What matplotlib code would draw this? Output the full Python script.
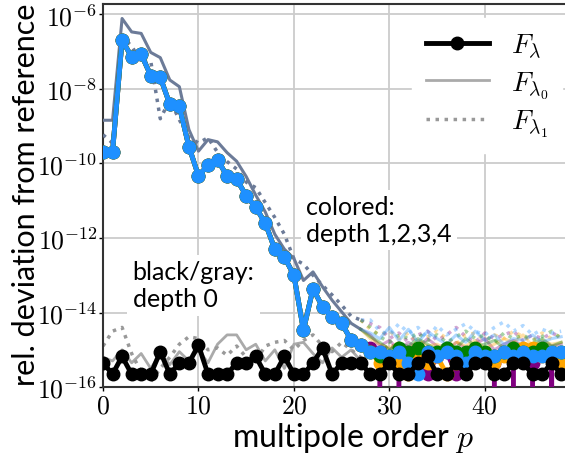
import numpy as np
import matplotlib.pyplot as plt
from matplotlib.lines import Line2D

plt.rcParams['mathtext.fontset'] = 'cm'
plt.rcParams['font.family'] = ['Lato', 'DejaVu Sans']

EPS = 2.22e-16
p = np.arange(49)
p_tail = np.arange(28, 49)
p_head = np.arange(28)

# depth 0 (black / gray), F_lambda in multiples of machine epsilon
F_depth0_eps = [2, 1, 3, 1, 1, 1, 4, 1, 2, 2, 6, 1, 1, 1, 2, 2, 3, 1, 1, 3,
                1, 1, 2, 5, 1, 2, 2, 2, 1, 1, 2, 1, 1, 2, 3, 1, 1, 2, 1, 2,
                2, 1, 1, 2, 2, 1, 1, 2, 1]
# log10 of the depth-0 F_lambda0 and F_lambda1 deviations
lam0_depth0 = [-15.2, -15.3, -15.0, -15.35, -15.1, -15.5, -15.1, -15.4, -15.05, -15.3,
               -15.0, -15.35, -14.85, -14.6, -14.6, -15.0, -14.85, -15.3, -15.0, -15.5,
               -14.85, -14.8, -15.1, -15.35, -14.95, -15.2, -15.0, -15.3, -15.1, -15.35,
               -15.0, -14.8, -15.05, -15.3, -14.9, -15.2, -15.0, -15.3, -15.05, -14.95,
               -15.2, -15.35, -15.0, -15.25, -15.05, -15.3, -15.1, -15.0, -15.3]
lam1_depth0 = [-14.9, -14.5, -14.4, -15.1, -15.6, -15.85, -15.5, -15.2, -14.85, -14.65,
               -14.7, -15.0, -14.95, -15.15, -14.9, -15.2, -15.3, -14.9, -14.8, -14.75,
               -15.0, -14.75, -14.6, -14.9, -15.05, -14.8, -15.0, -15.2, -14.9, -15.1,
               -14.85, -15.0, -15.2, -14.9, -15.1, -15.0, -14.8, -15.1, -15.3, -14.95,
               -15.0, -15.2, -14.9, -15.05, -15.25, -15.0, -14.9, -15.1, -15.2]

# depths 1-4: common convergent part (p = 0..27), log10
F_head = [-9.69, -9.69, -6.69, -7.14, -7.07, -7.64, -7.69, -8.41, -8.47, -9.55,
          -10.33, -10.05, -9.9, -10.34, -10.43, -10.86, -11.18, -11.6, -12.3, -12.51,
          -13.0, -14.47, -13.36, -13.85, -14.11, -14.29, -14.74, -14.87]
lam0_head = [-8.84, -8.84, -6.11, -6.47, -6.51, -7.02, -7.16, -7.76, -7.94, -9.09,
             -9.67, -9.36, -9.42, -9.71, -9.94, -10.35, -10.85, -11.3, -11.9, -12.3,
             -12.55, -13.14, -12.91, -13.31, -13.67, -13.98, -14.29, -14.45]
lam1_head = [-9.23, -9.45, -6.6, -6.85, -7.27, -7.25, -8.8, -8.3, -8.83, -9.3,
             -9.45, -9.31, -9.7, -9.95, -10.15, -10.5, -10.65, -11.05, -11.45, -11.9,
             -12.56, -12.7, -13.0, -13.27, -13.53, -13.8, -14.1, -14.2]

# depths 1-4: round-off tails (p = 28..48)
depth_colors = ['purple', 'orange', 'green', 'dodgerblue']
F_tail_eps = [
    [5, 4, 0, 2, 4, 3, 1, 3, 4, 1, 2, 4, 3, 2, 0, 3, 4, 2, 0, 3, 0],
    [4, 2, 3, 2, 1, 3, 2, 3, 1, 2, 3, 4, 3, 2, 3, 4, 5, 5, 3, 4, 2],
    [4, 3, 3, 5, 4, 5, 4, 4, 5, 4, 4, 5, 4, 3, 4, 5, 4, 4, 5, 4, 4],
    [4, 4, 3, 4, 2, 1, 4, 3, 4, 3, 2, 4, 3, 3, 4, 3, 4, 3, 3, 4, 4],
]
lam0_tail = [
    [-14.6, -14.9, -14.75, -15.0, -14.8, -14.95, -14.7, -14.9, -15.05, -14.8, -14.95,
     -14.85, -14.7, -15.0, -14.85, -14.75, -14.9, -15.0, -14.8, -14.9, -14.85],
    [-14.7, -14.85, -14.95, -14.8, -15.0, -14.75, -14.9, -14.85, -15.0, -14.8, -14.9,
     -14.75, -14.95, -14.85, -14.7, -14.8, -14.6, -14.9, -14.75, -14.85, -14.8],
    [-14.65, -14.8, -15.0, -14.85, -14.9, -14.7, -14.85, -15.0, -14.8, -14.95, -14.7,
     -14.9, -14.85, -14.75, -14.95, -14.8, -14.9, -14.85, -14.7, -14.9, -14.8],
    [-14.55, -14.7, -14.4, -14.75, -14.45, -14.8, -14.5, -14.7, -14.85, -14.6, -14.8,
     -14.5, -14.75, -14.6, -14.85, -14.7, -14.75, -14.6, -14.8, -14.7, -14.65],
]
lam1_tail = [
    [-14.3, -14.4, -14.7, -14.55, -14.8, -14.6, -14.5, -14.75, -14.6, -14.4, -14.65,
     -14.8, -14.55, -14.7, -14.6, -14.5, -14.75, -14.6, -14.7, -14.55, -14.65],
    [-14.45, -14.6, -14.5, -14.7, -14.55, -14.8, -14.65, -14.5, -14.7, -14.85, -14.6,
     -14.55, -14.75, -14.6, -14.7, -14.5, -14.65, -14.75, -14.55, -14.7, -14.6],
    [-14.4, -14.65, -14.8, -14.6, -14.7, -14.55, -14.75, -14.6, -14.8, -14.65, -14.5,
     -14.7, -14.6, -14.8, -14.55, -14.7, -14.6, -14.75, -14.65, -14.5, -14.7],
    [-14.2, -14.5, -14.6, -14.3, -14.55, -14.4, -14.7, -14.35, -14.6, -14.45, -14.3,
     -14.5, -14.6, -14.4, -14.25, -14.5, -14.35, -14.6, -14.45, -14.55, -14.5],
]

slate = '#6c7b98'
dots = (0, (1, 1.6))

fig = plt.figure(figsize=(5.65, 4.56), dpi=100)
ax = fig.add_axes([0.1823, 0.149, 0.8177, 0.84])
ax.set_yscale('log')

# depth 0 light lines
ax.plot(p, 10.0 ** np.array(lam0_depth0), color='#aaaaaa', lw=2, zorder=2)
ax.plot(p, 10.0 ** np.array(lam1_depth0), color='#999999', lw=2.5, ls=dots, zorder=2)

# depths 1-4 light lines: overlapping head, then separate tails
ax.plot(p_head, 10.0 ** np.array(lam0_head), color=slate, lw=2.2, zorder=3)
ax.plot(p_head, 10.0 ** np.array(lam1_head), color=slate, lw=2.5, ls=dots, zorder=3)
for c, t0, t1 in zip(depth_colors, lam0_tail, lam1_tail):
    ax.plot(np.r_[p_head[-1], p_tail], 10.0 ** np.r_[lam0_head[-1], t0],
            color=c, alpha=0.35, lw=2.2, zorder=3)
    ax.plot(np.r_[p_head[-1], p_tail], 10.0 ** np.r_[lam1_head[-1], t1],
            color=c, alpha=0.35, lw=2.5, ls=dots, zorder=3)

# depths 1-4 F_lambda
for c, tail in zip(depth_colors, F_tail_eps):
    y = np.r_[10.0 ** np.array(F_head), np.array(tail) * EPS]
    ax.plot(p, y, color=c, lw=3.5, marker='o', ms=9, zorder=4)

# depth 0 F_lambda
ax.plot(p, np.array(F_depth0_eps) * EPS, color='black', lw=3.5, marker='o', ms=9, zorder=5)

ax.set_xlim(0, 48.4)
ax.set_ylim(1e-16, 1.9e-6)
ax.set_yticks([1e-16, 1e-14, 1e-12, 1e-10, 1e-8, 1e-6])
ax.set_yticklabels([r'$10^{-16}$', r'$10^{-14}$', r'$10^{-12}$', r'$10^{-10}$',
                    r'$10^{-8}$', r'$10^{-6}$'])
ax.minorticks_off()
ax.set_xticks([0, 10, 20, 30, 40])
ax.set_xticklabels([r'$0$', r'$10$', r'$20$', r'$30$', r'$40$'])
ax.tick_params(labelsize=18.5, length=3, width=1, pad=1)
ax.grid(True, color='#cccccc', lw=1.3)
ax.set_axisbelow(True)
for s in ['left', 'bottom', 'top']:
    ax.spines[s].set_color('#333333')
    ax.spines[s].set_linewidth(1.5)
ax.spines['right'].set_visible(False)

ax.set_xlabel(r'multipole order $p$', fontsize=23)
ax.xaxis.set_label_coords(0.54, -0.085)
ax.set_ylabel('rel. deviation from reference', fontsize=22)
ax.yaxis.set_label_coords(-0.137, 0.505)

ax.text(21.3, 10 ** -10.85, 'colored:\ndepth 1,2,3,4', fontsize=18, va='top', ha='left',
        zorder=6, bbox=dict(facecolor='white', edgecolor='none', pad=4))
ax.text(3.1, 10 ** -12.6, 'black/gray:\ndepth 0', fontsize=18, va='top', ha='left',
        zorder=6, bbox=dict(facecolor='white', edgecolor='none', pad=4))

handles = [Line2D([], [], color='black', lw=3.5, marker='o', ms=9),
           Line2D([], [], color='#aaaaaa', lw=2),
           Line2D([], [], color='#999999', lw=2.5, ls=dots)]
leg = ax.legend(handles, [r'$F_\lambda$', r'$F_{\lambda_0}$', r'$F_{\lambda_1}$'],
                loc='upper right', bbox_to_anchor=(1.024, 1.0), fontsize=20,
                handlelength=2.25, labelspacing=0.3, borderpad=0.5,
                frameon=True, fancybox=False, framealpha=1, edgecolor='white')
leg.set_zorder(7)

fig.savefig('out.png', dpi=100)
